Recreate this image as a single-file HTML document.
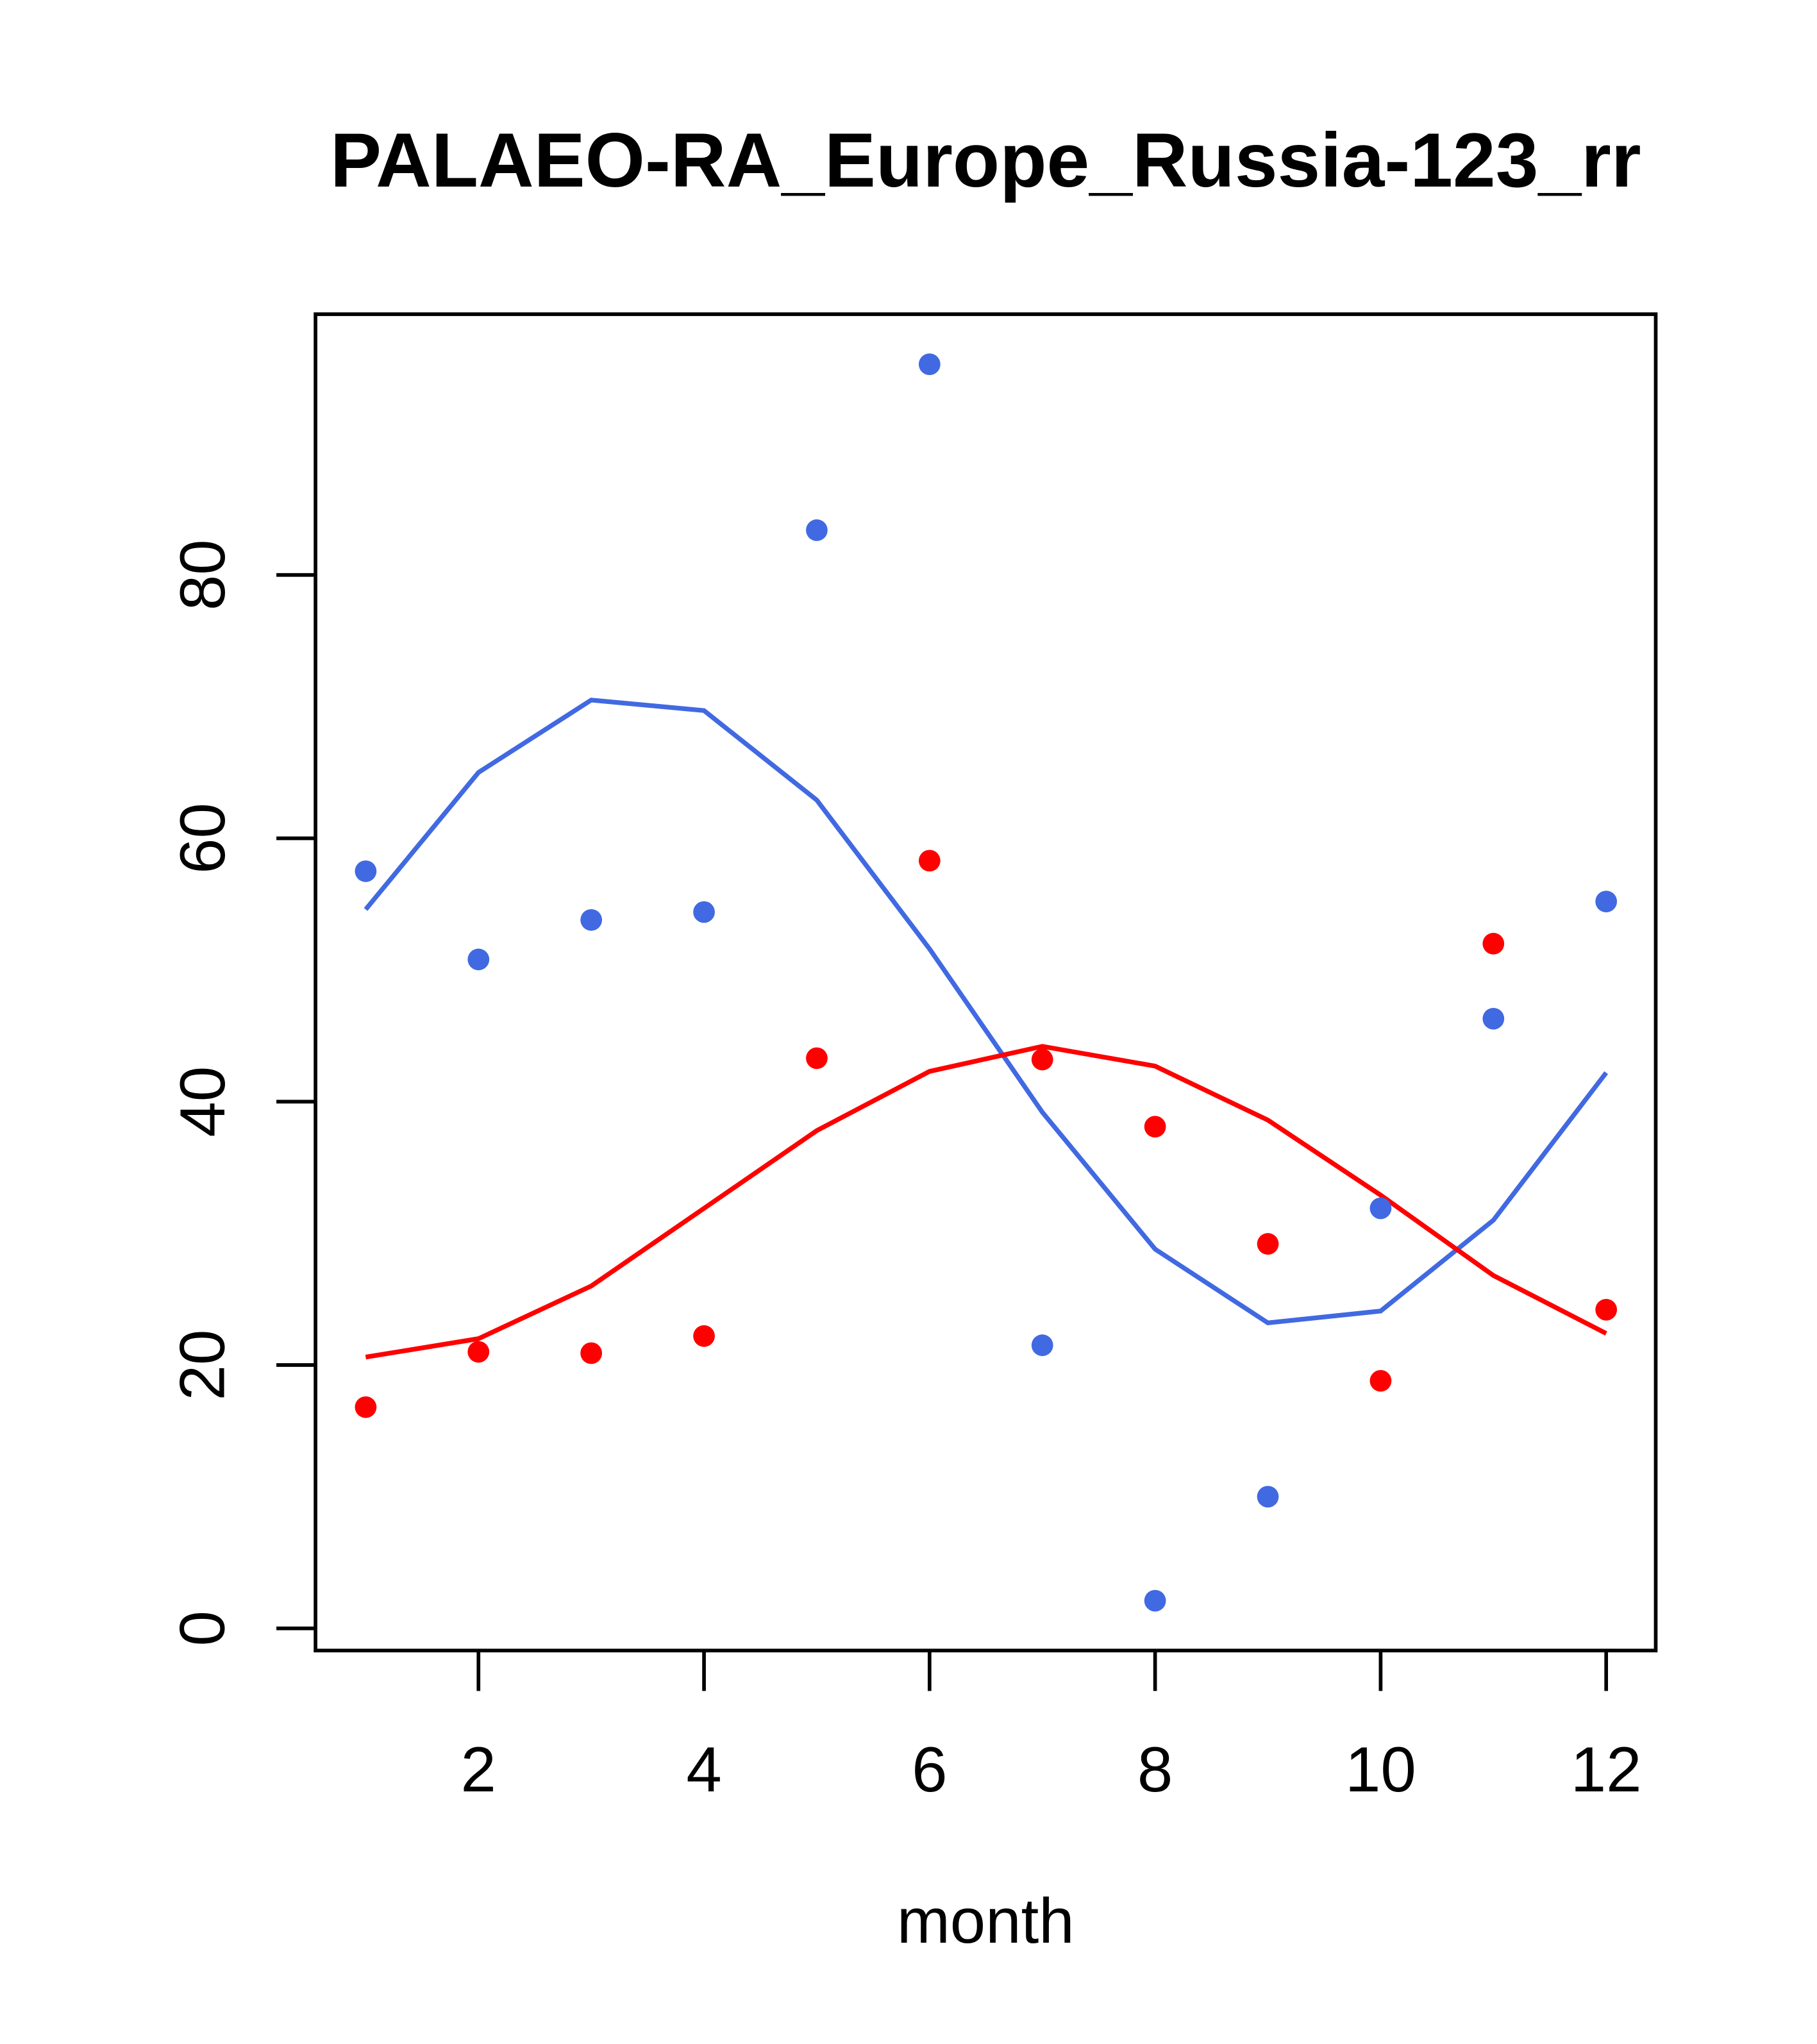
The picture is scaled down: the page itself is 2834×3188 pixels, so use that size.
<!DOCTYPE html>
<html><head><meta charset="utf-8"><style>body{margin:0;background:#fff}svg{display:block}</style></head>
<body>
<svg id="chart" width="2834" height="3188" viewBox="0 0 1393.7 1567.8" xmlns="http://www.w3.org/2000/svg" font-family="Liberation Sans, Arial, sans-serif">
<rect width="1400" height="1575" fill="#fff"/>
<text x="756" y="143" text-anchor="middle" font-size="59" font-weight="bold">PALAEO-RA_Europe_Russia-123_rr</text>
<rect x="242" y="241" width="1028" height="1025" fill="none" stroke="#000" stroke-width="2.8"/>
<text x="756" y="1490" text-anchor="middle" font-size="49">month</text>
<g id="axes"></g>
<g id="marks"></g>
</svg>
<script>
const months=[1,2,3,4,5,6,7,8,9,10,11,12];
const bluePoints=[57.5,50.8,53.8,54.4,83.4,96.0,21.5,2.1,10.0,31.9,46.3,55.2];
const redPoints=[16.8,21.0,20.9,22.2,43.3,58.3,43.2,38.1,29.2,18.8,52.0,24.2];
const blueLine=[54.6,65.0,70.5,69.7,62.9,51.6,39.2,28.8,23.2,24.1,31.0,42.2];
const redLine=[20.6,22.0,26.0,31.9,37.8,42.3,44.2,42.7,38.6,32.9,26.8,22.4];
const xTicks=[2,4,6,8,10,12];
const yTicks=[0,20,40,60,80];
const NS='http://www.w3.org/2000/svg';
function xs(m){return 280.5+(m-1)*86.5;}
function ys(v){return 1249-v*10.1;}
const axes=document.getElementById('axes'),marks=document.getElementById('marks');
function mk(tag,attrs,parent){const e=document.createElementNS(NS,tag);for(const k in attrs)e.setAttribute(k,attrs[k]);parent.appendChild(e);return e;}
xTicks.forEach(t=>{
  const l=mk('line',{x1:xs(t),x2:xs(t),y1:1266,y2:1297,stroke:'#000','stroke-width':2.8},axes);
  
  
  const tx=mk('text',{x:xs(t),y:1374,'text-anchor':'middle','font-size':49},axes);
  
  
  tx.textContent=t;
});
yTicks.forEach(t=>{
  const l=mk('line',{x1:212,x2:242,y1:ys(t),y2:ys(t),stroke:'#000','stroke-width':2.8},axes);
  
  
  const tx=mk('text',{x:172,y:ys(t),'text-anchor':'middle','font-size':49,transform:'rotate(-90 172 '+ys(t)+')'},axes);
  
  
  tx.textContent=t;
});
function line(vals,color,name){
  const p=mk('polyline',{points:vals.map((v,i)=>xs(months[i])+','+ys(v)).join(' '),fill:'none',stroke:color,'stroke-width':3.6},marks);
  
  
}
function pts(vals,color,name){
  vals.forEach((v,i)=>{
    const c=mk('circle',{cx:xs(months[i]),cy:ys(v),r:8.3,fill:color},marks);
    
    
  });
}
line(blueLine,'#4169E1','blue-line');
line(redLine,'#FF0000','red-line');
pts(bluePoints,'#4169E1','blue-point');
pts(redPoints,'#FF0000','red-point');
</script>
</body></html>
